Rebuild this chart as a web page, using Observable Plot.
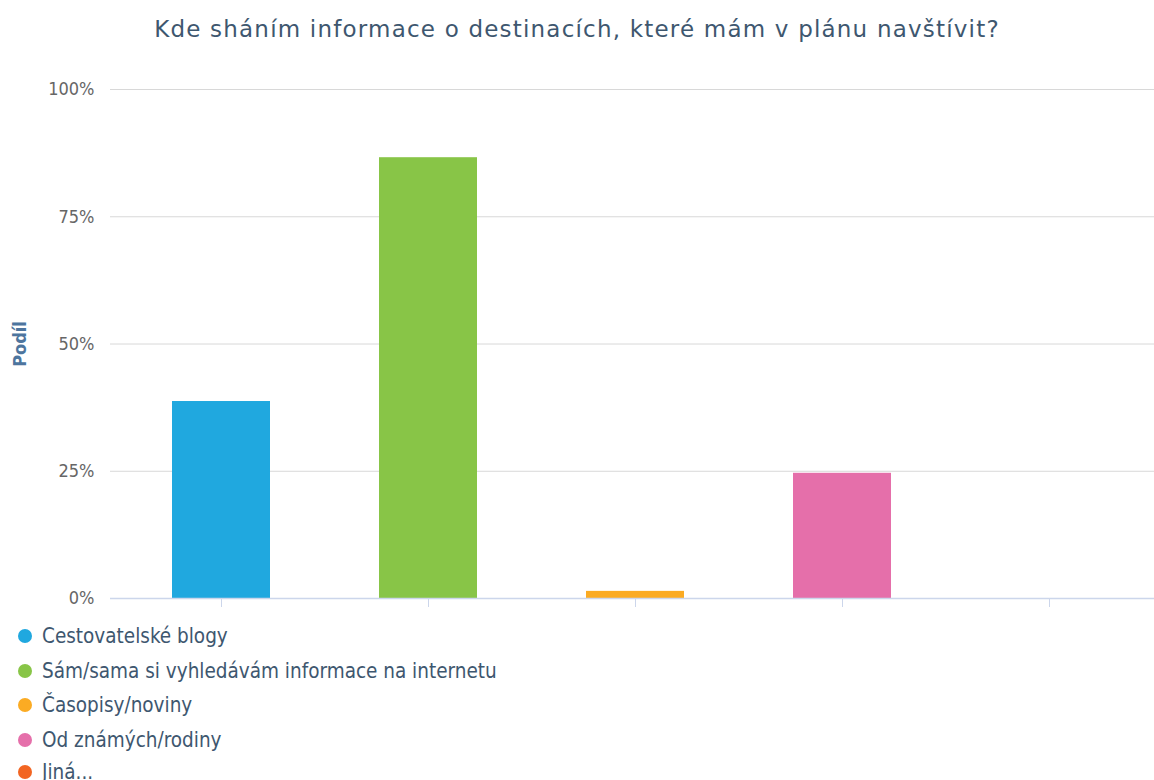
<!DOCTYPE html>
<html>
<head>
<meta charset="utf-8">
<script src="https://cdn.jsdelivr.net/npm/d3@7"></script>
<script src="https://cdn.jsdelivr.net/npm/@observablehq/plot@0.6"></script>
<style>
  html, body { margin: 0; padding: 0; background: #fff; }
  body { width: 1154px; height: 780px; overflow: hidden; font-family: "DejaVu Sans Condensed", "DejaVu Sans", sans-serif; }
  #title { height: 65px; line-height: 58px; text-align: center; font-family: "DejaVu Sans", sans-serif; font-size: 23px; letter-spacing: 1.2px; color: #3e576f; white-space: nowrap; }
  #chart svg { display: block; font-family: "DejaVu Sans Condensed", "DejaVu Sans", sans-serif; }
  #chart svg [aria-label="y-axis label"] text { font-weight: bold; font-size: 18px; fill: #4d759e; }
  #legend { padding-left: 18px; margin-top: 6px; }
  .item { height: 34.5px; line-height: 34.5px; font-size: 20.5px; color: #3e576f; display: flex; align-items: center; white-space: nowrap; }
  .item:last-child { height: 30px; line-height: 30px; }
  .dot { width: 14px; height: 14px; border-radius: 50%; margin-right: 10px; display: inline-block; flex: none; }
</style>
</head>
<body>
<div id="title">Kde sháním informace o destinacích, které mám v plánu navštívit?</div>
<div id="chart"></div>
<div id="legend"></div>
<script>
const categories = ["Cestovatelské blogy", "Sám/sama si vyhledávám informace na internetu", "Časopisy/noviny", "Od známých/rodiny", "Jiná..."];
const shares = [0.387, 0.866, 0.014, 0.246, 0];
const colors = ["#20a8df", "#88c547", "#fbab23", "#e56faa", "#f26522"];
const yTicks = [0, 0.25, 0.5, 0.75, 1];
const yLabel = "Podíl";

const data = categories.map((c, i) => ({category: c, share: shares[i]}));

const plot = Plot.plot({
  width: 1154,
  height: 548,
  marginTop: 24,
  marginBottom: 15,
  marginLeft: 110,
  marginRight: 0,
  style: {fontSize: "18px", color: "#666"},
  x: {type: "band", domain: categories, range: [117.5, 1152.5], paddingInner: 0.525, paddingOuter: 0.2625},
  y: {domain: [0, 1]},
  color: {domain: categories, range: colors},
  marks: [
    Plot.gridY(yTicks.filter(d => d > 0), {stroke: "#d8d8d8", strokeOpacity: 1}),
    Plot.barY(data, {x: "category", y: "share", fill: "category"}),
    Plot.ruleY([0], {stroke: "#ccd6eb", strokeWidth: 1.5}),
    Plot.axisX({ticks: categories, tickSize: 9, tickFormat: () => "", stroke: "#ccd6eb", label: null}),
    Plot.axisY({ticks: yTicks, tickFormat: d3.format(".0%"), tickSize: 0, tickPadding: 16, fill: "#666",
      label: yLabel, labelAnchor: "center", labelOffset: 97, labelArrow: "none"})
  ]
});
document.getElementById("chart").appendChild(plot);

const legend = document.getElementById("legend");
categories.forEach((c, i) => {
  const row = document.createElement("div");
  row.className = "item";
  const dot = document.createElement("span");
  dot.className = "dot";
  dot.style.background = colors[i];
  const txt = document.createElement("span");
  txt.textContent = c;
  row.appendChild(dot);
  row.appendChild(txt);
  legend.appendChild(row);
});
</script>
</body>
</html>
